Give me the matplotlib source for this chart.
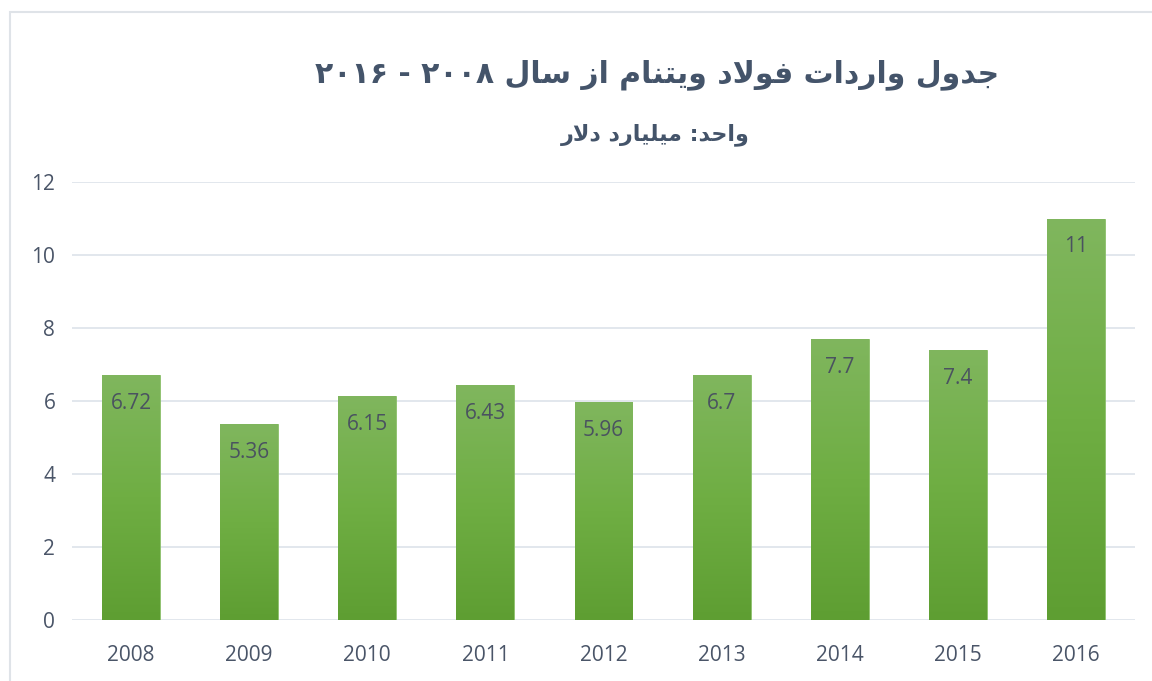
import re
import matplotlib
matplotlib.use("Agg")
import matplotlib.pyplot as plt
import numpy as np
from matplotlib.colors import LinearSegmentedColormap
from matplotlib.patches import Rectangle

years = ["2008", "2009", "2010", "2011", "2012", "2013", "2014", "2015", "2016"]
imports = [6.72, 5.36, 6.15, 6.43, 5.96, 6.7, 7.7, 7.4, 11]
value_labels = ["6.72", "5.36", "6.15", "6.43", "5.96", "6.7", "7.7", "7.4", "11"]
title = "جدول واردات فولاد ویتنام از سال ۲۰۰۸ - ۲۰۱۶"
subtitle = "واحد: میلیارد دلار"

# presentation forms: (isolated, final, initial, medial); None = right-joining only
FORMS = {
    "ا": (0xFE8D, 0xFE8E, None, None),
    "ب": (0xFE8F, 0xFE90, 0xFE91, 0xFE92),
    "ت": (0xFE95, 0xFE96, 0xFE97, 0xFE98),
    "ج": (0xFE9D, 0xFE9E, 0xFE9F, 0xFEA0),
    "ح": (0xFEA1, 0xFEA2, 0xFEA3, 0xFEA4),
    "د": (0xFEA9, 0xFEAA, None, None),
    "ر": (0xFEAD, 0xFEAE, None, None),
    "ز": (0xFEAF, 0xFEB0, None, None),
    "س": (0xFEB1, 0xFEB2, 0xFEB3, 0xFEB4),
    "ف": (0xFED1, 0xFED2, 0xFED3, 0xFED4),
    "ل": (0xFEDD, 0xFEDE, 0xFEDF, 0xFEE0),
    "م": (0xFEE1, 0xFEE2, 0xFEE3, 0xFEE4),
    "ن": (0xFEE5, 0xFEE6, 0xFEE7, 0xFEE8),
    "و": (0xFEED, 0xFEEE, None, None),
    "ی": (0xFEEF, 0xFEF0, 0xFEF3, 0xFEF4),
}


def dual(c):
    return c in FORMS and FORMS[c][2] is not None


def shape(text):
    out = []
    i = 0
    n = len(text)
    while i < n:
        c = text[i]
        if c not in FORMS:
            out.append(c)
            i += 1
            continue
        prev_joins = i > 0 and dual(text[i - 1])
        if c == "ل" and i + 1 < n and text[i + 1] == "ا":
            out.append(chr(0xFEFC if prev_joins else 0xFEFB))
            i += 2
            continue
        next_joins = dual(c) and i + 1 < n and text[i + 1] in FORMS
        iso, fin, ini, med = FORMS[c]
        if prev_joins and next_joins:
            f = med
        elif prev_joins:
            f = fin
        elif next_joins:
            f = ini
        else:
            f = iso
        out.append(chr(f))
        i += 1
    s = "".join(out)[::-1]
    # digit runs keep left-to-right order
    return re.sub(r"[\u06F0-\u06F9]+", lambda m: m.group(0)[::-1], s)


text_color = "#4a5568"
grid_color = "#dde3ea"

fig = plt.figure(figsize=(11.52, 6.81), dpi=100)
fig.patches.append(Rectangle((10 / 1152, -0.1), 1.2, (681 - 12) / 681 + 0.1,
                             transform=fig.transFigure, fill=False,
                             edgecolor="#dfe3e8", linewidth=1.5))
ax = fig.add_axes([72 / 1152, (681 - 620) / 681, (1135 - 72) / 1152, (620 - 182) / 681])

x = np.arange(len(years))
bars = ax.bar(x, imports, width=0.49, color="#70ad47", zorder=2)

cmap = LinearSegmentedColormap.from_list("g", ["#5e9e32", "#6fae43", "#80b65e"])
grad = np.linspace(0, 1, 256).reshape(-1, 1)
for b in bars:
    x0, w, h = b.get_x(), b.get_width(), b.get_height()
    im = ax.imshow(grad, cmap=cmap, origin="lower", aspect="auto",
                   extent=[x0, x0 + w, 0, h], zorder=3)
    im.set_clip_path(b)
    b.set_edgecolor("#8cc06c")
    b.set_linewidth(0.6)

for xi, v, lab in zip(x, imports, value_labels):
    ax.annotate(lab, (xi, v), xytext=(0, -18), textcoords="offset pixels",
                ha="center", va="top", fontsize=15, color="#4a5260",
                family="Open Sans", zorder=4)

ax.set_xlim(-0.5, len(years) - 0.5)
ax.set_ylim(0, 12)
ax.set_yticks(range(0, 13, 2))
ax.set_xticks(x)
ax.set_xticklabels(years)
ax.grid(axis="y", color=grid_color, linewidth=1.2, zorder=0)
for sp in ax.spines.values():
    sp.set_visible(False)
ax.tick_params(length=0, labelsize=15, labelcolor=text_color)
ax.tick_params(axis="x", pad=18)
ax.tick_params(axis="y", pad=12)
for t in ax.get_xticklabels() + ax.get_yticklabels():
    t.set_family("Open Sans")

fig.text(657 / 1152, 1 - 75 / 681, shape(title), ha="center", va="center",
         fontsize=21.5, fontweight="bold", color="#44546a", family=["DejaVu Sans"])
fig.text(655 / 1152, 1 - 135 / 681, shape(subtitle), ha="center", va="center",
         fontsize=16, fontweight="bold", color="#44546a",
         family=["DejaVu Sans"])

fig.savefig("out.png", dpi=100)
